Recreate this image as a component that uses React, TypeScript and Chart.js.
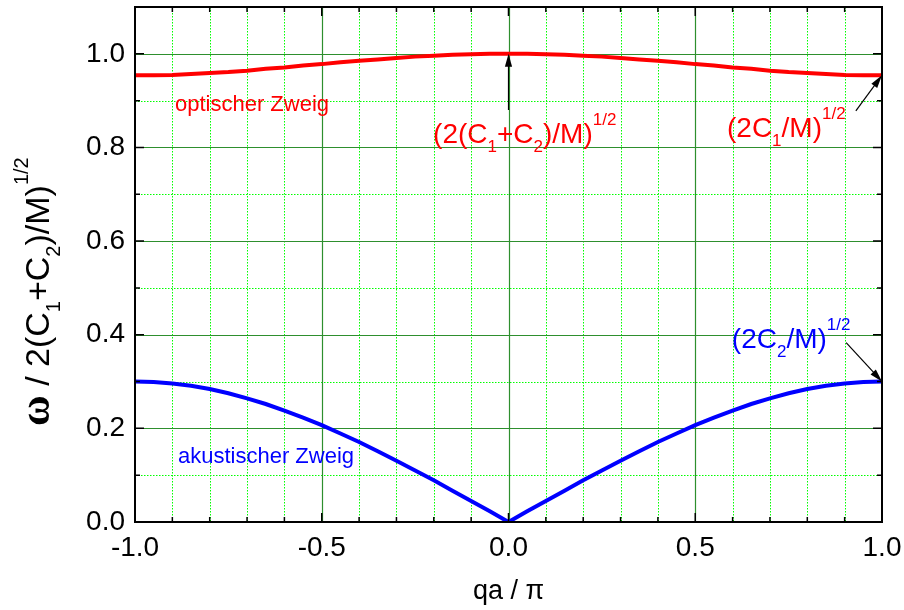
import React, { useEffect, useRef } from "react";
import { Chart, registerables } from "chart.js";

Chart.register(...registerables);

// ---------------- data ----------------
const X_VALUES = [
  -1.0, -0.95, -0.9, -0.85, -0.8, -0.75, -0.7, -0.65, -0.6, -0.55, -0.5,
  -0.45, -0.4, -0.35, -0.3, -0.25, -0.2, -0.15, -0.1, -0.05, 0.0,
  0.05, 0.1, 0.15, 0.2, 0.25, 0.3, 0.35, 0.4, 0.45, 0.5,
  0.55, 0.6, 0.65, 0.7, 0.75, 0.8, 0.85, 0.9, 0.95, 1.0,
];

const OPTICAL = [
  0.954, 0.954, 0.955, 0.957, 0.959, 0.961, 0.964, 0.968, 0.971, 0.975, 0.978,
  0.982, 0.985, 0.988, 0.991, 0.994, 0.996, 0.998, 0.999, 1.0, 1.0,
  1.0, 0.999, 0.998, 0.996, 0.994, 0.991, 0.988, 0.985, 0.982, 0.978,
  0.975, 0.971, 0.968, 0.964, 0.961, 0.959, 0.957, 0.955, 0.954, 0.954,
];

const ACOUSTIC = [
  0.3, 0.299, 0.296, 0.291, 0.284, 0.275, 0.264, 0.252, 0.238, 0.223, 0.207,
  0.189, 0.171, 0.151, 0.131, 0.11, 0.089, 0.067, 0.045, 0.023, 0.0,
  0.023, 0.045, 0.067, 0.089, 0.11, 0.131, 0.151, 0.171, 0.189, 0.207,
  0.223, 0.238, 0.252, 0.264, 0.275, 0.284, 0.291, 0.296, 0.299, 0.3,
];

const X_TICKS = [-1.0, -0.5, 0.0, 0.5, 1.0];
const Y_TICKS = [0.0, 0.2, 0.4, 0.6, 0.8, 1.0];
const X_MINOR_STEP = 0.1;
const Y_MINOR_STEP = 0.1;
const X_MIN = -1.0;
const X_MAX = 1.0;
const Y_MIN = 0.0;
const Y_MAX = 1.1;

// ---------------- styles ----------------
const SANS = "'Liberation Sans', Arial, sans-serif";
const RED = "#ff0000";
const BLUE = "#0000ff";

type Seg = { t: string; k?: "sub" | "sup"; font?: string };

function segFont(seg: Seg, size: number) {
  if (seg.font) return seg.font;
  if (seg.k) return `${Math.round(size * 0.6)}px ${SANS}`;
  return `${size}px ${SANS}`;
}
function segShift(seg: Seg, size: number) {
  if (seg.k === "sub") return size * 0.32;
  if (seg.k === "sup") return -size * 0.62;
  return 0;
}

function drawRich(ctx: CanvasRenderingContext2D, segs: Seg[], size: number, color: string) {
  let x = 0;
  ctx.fillStyle = color;
  ctx.textBaseline = "alphabetic";
  ctx.textAlign = "left";
  for (const s of segs) {
    ctx.font = segFont(s, size);
    ctx.fillText(s.t, x, segShift(s, size));
    x += ctx.measureText(s.t).width;
  }
  return x;
}
function richWidth(ctx: CanvasRenderingContext2D, segs: Seg[], size: number) {
  let w = 0;
  for (const s of segs) {
    ctx.font = segFont(s, size);
    w += ctx.measureText(s.t).width;
  }
  return w;
}

function arrow(ctx: CanvasRenderingContext2D, x1: number, y1: number, x2: number, y2: number) {
  const ang = Math.atan2(y2 - y1, x2 - x1);
  const L = 13;
  const W = 3.6;
  ctx.save();
  ctx.strokeStyle = "#000";
  ctx.fillStyle = "#000";
  ctx.lineWidth = 1.2;
  ctx.beginPath();
  ctx.moveTo(x1, y1);
  ctx.lineTo(x2 - Math.cos(ang) * (L - 2), y2 - Math.sin(ang) * (L - 2));
  ctx.stroke();
  ctx.beginPath();
  ctx.moveTo(x2, y2);
  ctx.lineTo(x2 - L * Math.cos(ang) + W * Math.sin(ang), y2 - L * Math.sin(ang) - W * Math.cos(ang));
  ctx.lineTo(x2 - L * Math.cos(ang) - W * Math.sin(ang), y2 - L * Math.sin(ang) + W * Math.cos(ang));
  ctx.closePath();
  ctx.fill();
  ctx.restore();
}

// annotation definitions (data coordinates)
const LABELS: { x: number; y: number; size: number; color: string; segs: Seg[] }[] = [
  { x: -0.893, y: 0.878, size: 22, color: RED, segs: [{ t: "optischer Zweig" }] },
  { x: -0.885, y: 0.127, size: 22, color: BLUE, segs: [{ t: "akustischer Zweig" }] },
  {
    x: -0.202, y: 0.81, size: 28, color: RED,
    segs: [{ t: "(2(C" }, { t: "1", k: "sub" }, { t: "+C" }, { t: "2", k: "sub" }, { t: ")/M)" }, { t: "1/2", k: "sup" }],
  },
  {
    x: 0.585, y: 0.823, size: 28, color: RED,
    segs: [{ t: "(2C" }, { t: "1", k: "sub" }, { t: "/M)" }, { t: "1/2", k: "sup" }],
  },
  {
    x: 0.598, y: 0.372, size: 28, color: BLUE,
    segs: [{ t: "(2C" }, { t: "2", k: "sub" }, { t: "/M)" }, { t: "1/2", k: "sup" }],
  },
];

const ARROWS = [
  { from: [0.0, 0.88], to: [0.0, 1.0] },
  { from: [0.93, 0.878], to: [1.0, 0.954] },
  { from: [0.904, 0.383], to: [1.0, 0.3] },
];

const decorPlugin = {
  id: "decor",
  beforeDatasetsDraw(chart: any) {
    const { ctx, chartArea: a, scales } = chart;
    const xs = scales.x;
    const ys = scales.y;
    ctx.save();
    ctx.strokeStyle = "#00ff00";
    ctx.lineWidth = 1;
    ctx.setLineDash([1.5, 1.5]);
    const nx = Math.round((X_MAX - X_MIN) / X_MINOR_STEP);
    for (let i = 1; i < nx; i++) {
      const v = X_MIN + i * X_MINOR_STEP;
      if (X_TICKS.some((t) => Math.abs(t - v) < 1e-6)) continue;
      const px = Math.round(xs.getPixelForValue(v)) + 0.5;
      ctx.beginPath();
      ctx.moveTo(px, a.top);
      ctx.lineTo(px, a.bottom);
      ctx.stroke();
    }
    const ny = Math.round((Y_MAX - Y_MIN) / Y_MINOR_STEP);
    for (let i = 1; i < ny; i++) {
      const v = Y_MIN + i * Y_MINOR_STEP;
      if (Y_TICKS.some((t) => Math.abs(t - v) < 1e-6)) continue;
      const py = Math.round(ys.getPixelForValue(v)) + 0.5;
      ctx.beginPath();
      ctx.moveTo(a.left, py);
      ctx.lineTo(a.right, py);
      ctx.stroke();
    }
    ctx.setLineDash([]);
    ctx.strokeStyle = "#2e8f2e";
    ctx.lineWidth = 1.2;
    for (const v of X_TICKS) {
      if (v <= X_MIN || v >= X_MAX) continue;
      const px = Math.round(xs.getPixelForValue(v)) + 0.5;
      ctx.beginPath();
      ctx.moveTo(px, a.top);
      ctx.lineTo(px, a.bottom);
      ctx.stroke();
    }
    for (const v of Y_TICKS) {
      if (v <= Y_MIN || v >= Y_MAX) continue;
      const py = Math.round(ys.getPixelForValue(v)) + 0.5;
      ctx.beginPath();
      ctx.moveTo(a.left, py);
      ctx.lineTo(a.right, py);
      ctx.stroke();
    }
    ctx.restore();
  },
  afterDatasetsDraw(chart: any) {
    const { ctx, chartArea: a, scales } = chart;
    const xs = scales.x;
    const ys = scales.y;
    ctx.save();
    ctx.strokeStyle = "#000";
    ctx.lineWidth = 2;
    ctx.strokeRect(a.left, a.top, a.right - a.left, a.bottom - a.top);
    ctx.lineWidth = 1.5;
    const nx = Math.round((X_MAX - X_MIN) / X_MINOR_STEP);
    for (let i = 0; i <= nx; i++) {
      const v = X_MIN + i * X_MINOR_STEP;
      const major = X_TICKS.some((t) => Math.abs(t - v) < 1e-6);
      const len = major ? 9 : 5;
      const px = xs.getPixelForValue(v);
      ctx.beginPath();
      ctx.moveTo(px, a.bottom);
      ctx.lineTo(px, a.bottom - len);
      ctx.moveTo(px, a.top);
      ctx.lineTo(px, a.top + len);
      ctx.stroke();
    }
    const ny = Math.round((Y_MAX - Y_MIN) / Y_MINOR_STEP);
    for (let i = 0; i <= ny; i++) {
      const v = Y_MIN + i * Y_MINOR_STEP;
      const major = Y_TICKS.some((t) => Math.abs(t - v) < 1e-6);
      const len = major ? 9 : 5;
      const py = ys.getPixelForValue(v);
      ctx.beginPath();
      ctx.moveTo(a.left, py);
      ctx.lineTo(a.left + len, py);
      ctx.moveTo(a.right, py);
      ctx.lineTo(a.right - len, py);
      ctx.stroke();
    }
    for (const ar of ARROWS) {
      arrow(
        ctx,
        xs.getPixelForValue(ar.from[0]), ys.getPixelForValue(ar.from[1]),
        xs.getPixelForValue(ar.to[0]), ys.getPixelForValue(ar.to[1])
      );
    }
    for (const lb of LABELS) {
      ctx.save();
      ctx.translate(xs.getPixelForValue(lb.x), ys.getPixelForValue(lb.y));
      drawRich(ctx, lb.segs, lb.size, lb.color);
      ctx.restore();
    }
    const xt: Seg[] = [{ t: "qa / π" }];
    const xw = richWidth(ctx, xt, 27);
    ctx.save();
    ctx.translate((a.left + a.right) / 2 - xw / 2, 599);
    drawRich(ctx, xt, 27, "#000");
    ctx.restore();
    const yt: Seg[] = [
      { t: "ω", font: `bold 42px 'Liberation Serif', serif` },
      { t: " / 2(C" }, { t: "1", k: "sub" }, { t: "+C" }, { t: "2", k: "sub" }, { t: ")/M)" }, { t: "1/2", k: "sup" },
    ];
    ctx.save();
    ctx.translate(49, 426);
    ctx.rotate(-Math.PI / 2);
    drawRich(ctx, yt, 34, "#000");
    ctx.restore();
    ctx.restore();
  },
};

export default function App() {
  const ref = useRef<HTMLCanvasElement | null>(null);
  useEffect(() => {
    if (!ref.current) return;
    const chart = new Chart(ref.current, {
      type: "line",
      data: {
        datasets: [
          {
            label: "optischer Zweig",
            data: X_VALUES.map((x, i) => ({ x, y: OPTICAL[i] })),
            borderColor: RED,
            borderWidth: 4,
            pointRadius: 0,
            tension: 0,
            fill: false,
          },
          {
            label: "akustischer Zweig",
            data: X_VALUES.map((x, i) => ({ x, y: ACOUSTIC[i] })),
            borderColor: BLUE,
            borderWidth: 4,
            pointRadius: 0,
            tension: 0,
            fill: false,
          },
        ],
      },
      options: {
        responsive: false,
        animation: false,
        devicePixelRatio: 1,
        layout: { padding: { top: 7, right: 22, left: 0, bottom: 0 } },
        plugins: { legend: { display: false }, tooltip: { enabled: false } },
        scales: {
          x: {
            type: "linear",
            min: X_MIN,
            max: X_MAX,
            grid: { display: false, drawTicks: false },
            border: { display: false },
            afterBuildTicks: (s: any) => {
              s.ticks = X_TICKS.map((v) => ({ value: v }));
            },
            afterFit: (s: any) => {
              s.height = 88;
              s.paddingLeft = 0;
              s.paddingRight = 0;
            },
            ticks: {
              padding: 9,
              color: "#000",
              maxRotation: 0,
              autoSkip: false,
              font: { family: SANS, size: 28 },
              callback: (v: any) => Number(v).toFixed(1),
            },
          },
          y: {
            type: "linear",
            min: Y_MIN,
            max: Y_MAX,
            grid: { display: false, drawTicks: false },
            border: { display: false },
            afterBuildTicks: (s: any) => {
              s.ticks = Y_TICKS.map((v) => ({ value: v }));
            },
            afterFit: (s: any) => {
              s.width = 135;
              s.paddingTop = 0;
              s.paddingBottom = 0;
            },
            ticks: {
              padding: 10,
              color: "#000",
              autoSkip: false,
              font: { family: SANS, size: 28 },
              callback: (v: any) => Number(v).toFixed(1),
            },
          },
        },
      },
      plugins: [decorPlugin],
    });
    return () => chart.destroy();
  }, []);
  return (
    <div style={{ position: "absolute", left: 0, top: 0, width: 904, height: 610, background: "#fff" }}>
      <canvas ref={ref} width={904} height={610} style={{ display: "block" }} />
    </div>
  );
}
